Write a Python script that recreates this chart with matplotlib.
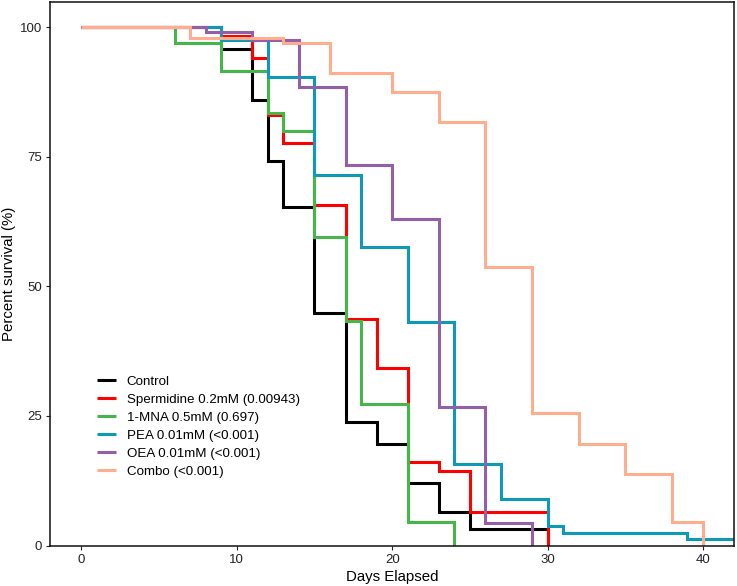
import numpy as np
import matplotlib
matplotlib.use("Agg")
from matplotlib import pyplot as plt

plt.rcParams['font.family'] = ['Liberation Sans', 'DejaVu Sans']

# survival steps (day, percent surviving)
control_days = [0, 9, 11, 12, 13, 15, 17, 19, 21, 23, 25, 30]
control_surv = [100, 95.9, 86.0, 74.2, 65.3, 44.9, 23.9, 19.5, 12.1, 6.5, 3.1, 0]

sperm_days = [0, 9, 11, 12, 13, 15, 17, 19, 21, 23, 25, 30]
sperm_surv = [100, 98.4, 94.0, 83.0, 77.6, 65.7, 43.7, 34.2, 16.1, 14.4, 6.4, 0]

mna_days = [0, 6, 9, 12, 13, 15, 17, 18, 21, 24]
mna_surv = [100, 96.9, 91.5, 83.4, 80.0, 59.5, 43.3, 27.3, 4.5, 0]

pea_days = [0, 9, 12, 15, 18, 21, 24, 27, 30, 31, 39, 42]
pea_surv = [100, 97.5, 90.4, 71.5, 57.6, 43.1, 15.7, 9.0, 3.8, 2.5, 1.3, 1.3]

oea_days = [0, 8, 11, 14, 17, 20, 23, 26, 29]
oea_surv = [100, 99.2, 97.5, 88.4, 73.4, 63.0, 26.8, 4.4, 0]

combo_days = [0, 7, 13, 16, 20, 23, 26, 29, 32, 35, 38, 40]
combo_surv = [100, 97.9, 96.9, 91.1, 87.5, 81.7, 53.7, 25.5, 19.6, 13.8, 4.5, 0]

labels = ['Control', 'Spermidine 0.2mM (0.00943)', '1-MNA 0.5mM (0.697)',
          'PEA 0.01mM (<0.001)', 'OEA 0.01mM (<0.001)', 'Combo (<0.001)']
colors = ['#000000', '#FF0000', '#45B649', '#0E9AB6', '#935FA8', '#FFAD8F']

curves = [(control_days, control_surv), (sperm_days, sperm_surv),
          (mna_days, mna_surv), (pea_days, pea_surv),
          (oea_days, oea_surv), (combo_days, combo_surv)]

fig = plt.figure(figsize=(7.37, 5.86), dpi=100)
ax = fig.add_axes([0.0683, 0.0691, 0.9277, 0.9275])

for (d, s), lab, c in zip(curves, labels, colors):
    ax.step(d, s, where='post', color=c, lw=2.2, label=lab,
            solid_capstyle='butt', solid_joinstyle='miter')

ax.set_xlim(-2, 42)
ax.set_ylim(0, 104.9)
ax.set_xticks([0, 10, 20, 30, 40])
ax.set_yticks([0, 25, 50, 75, 100])
ax.tick_params(direction='out', length=3.2, width=0.8, labelsize=9.5,
               colors='#222222', labelcolor='#222222', pad=3)
for sp in ax.spines.values():
    sp.set_linewidth(1.1)
    sp.set_color('#111111')

ax.set_xlabel('Days Elapsed', fontsize=10.8, labelpad=3)
ax.set_ylabel('Percent survival (%)', fontsize=10.8, va='center')
# put the y label right at the left edge like the reference
ax.yaxis.set_label_coords(-0.060, 0.5)

ax.legend(loc='upper left', bbox_to_anchor=(0.1316, 0.359),
          bbox_transform=fig.transFigure, frameon=False, fontsize=9.6,
          handlelength=1.43, handletextpad=0.8, borderpad=0,
          borderaxespad=0, labelspacing=0.42)

fig.savefig('out.png', dpi=100)
